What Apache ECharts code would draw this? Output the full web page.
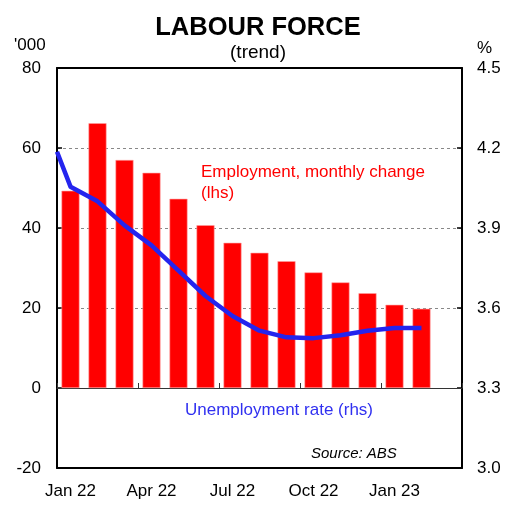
<!DOCTYPE html>
<html>
<head>
<meta charset="utf-8">
<script src="https://cdn.jsdelivr.net/npm/echarts@6/dist/echarts.min.js"></script>
<style>
  html, body { margin: 0; padding: 0; background: #fff; }
  #chart { width: 516px; height: 510px; }
</style>
</head>
<body>
<div id="chart"></div>
<script>
// monthly categories, Jan 22 .. Mar 23 (last one has no bar, it only pads the axis)
const meses = ['Jan 22','Feb 22','Mar 22','Apr 22','May 22','Jun 22','Jul 22','Aug 22','Sep 22','Oct 22','Nov 22','Dec 22','Jan 23','Feb 23','Mar 23'];

// employment, monthly change ('000), lhs
const empleo = [49.3, 66.2, 57.0, 53.8, 47.3, 40.7, 36.3, 33.8, 31.7, 28.9, 26.4, 23.7, 20.8, 19.8];

// unemployment rate (%), rhs; first point is where the line enters the frame (mid Dec 21), then Jan 22 .. Feb 23
const mesesDesempleo = [-0.5, 0, 1, 2, 3, 4, 5, 6, 7, 8, 9, 10, 11, 12, 13];
const desempleo = [4.186, 4.055, 4.00, 3.91, 3.835, 3.74, 3.645, 3.57, 3.515, 3.49, 3.487, 3.498, 3.515, 3.525, 3.525];

const ticksIzq = { min: -20, max: 80, interval: 20 };
const ticksDer = { min: 3.0, max: 4.5, interval: 0.3 };

const chartDom = document.getElementById('chart');
const myChart = echarts.init(chartDom);

const fuente = 'Liberation Sans, Arial, sans-serif';
const azul = '#2424ee';
const marco = { show: true, onZero: false, lineStyle: { color: '#000', width: 2 } };

const option = {
  animation: false,
  grid: {
    left: 57,
    right: 54,
    top: 68,
    bottom: 42
  },
  xAxis: [
    {
      type: 'category',
      data: meses,
      position: 'bottom',
      axisLine: marco,
      axisTick: { show: false },
      axisLabel: {
        interval: 2,
        margin: 15,
        color: '#000',
        fontSize: 17,
        fontFamily: fuente
      },
      splitLine: { show: false },
      z: 1
    },
    {
      // line along zero with the quarter ticks; also carries the unemployment line
      type: 'value',
      min: 0,
      max: meses.length,
      interval: 3,
      position: 'top',
      axisLine: { show: true, onZero: true, onZeroAxisIndex: 0, lineStyle: { color: '#333', width: 1 } },
      axisTick: { show: true, inside: false, length: 5, lineStyle: { color: '#333', width: 1 } },
      axisLabel: { show: false },
      splitLine: { show: false },
      z: 1
    },
    {
      // top edge of the frame
      type: 'category',
      data: meses,
      position: 'top',
      axisLine: marco,
      axisTick: { show: false },
      axisLabel: { show: false },
      splitLine: { show: false },
      z: 1
    }
  ],
  yAxis: [
    {
      type: 'value',
      position: 'left',
      min: ticksIzq.min,
      max: ticksIzq.max,
      interval: ticksIzq.interval,
      axisLine: marco,
      axisTick: { show: true, inside: true, length: 5, lineStyle: { color: '#000', width: 1.5 } },
      axisLabel: { color: '#000', fontSize: 17, fontFamily: fuente, margin: 16 },
      splitLine: { show: true, lineStyle: { color: '#888', width: 1, type: [3, 3] } }
    },
    {
      type: 'value',
      position: 'right',
      min: ticksDer.min,
      max: ticksDer.max,
      interval: ticksDer.interval,
      axisLine: marco,
      axisTick: { show: true, inside: true, length: 5, lineStyle: { color: '#000', width: 1.5 } },
      axisLabel: {
        color: '#000', fontSize: 17, fontFamily: fuente, margin: 15,
        formatter: v => v.toFixed(1)
      },
      splitLine: { show: false }
    }
  ],
  series: [
    {
      name: 'Employment, monthly change',
      type: 'bar',
      xAxisIndex: 0,
      yAxisIndex: 0,
      data: empleo,
      barWidth: 18,
      itemStyle: { color: '#ff0000', borderColor: '#ff9d9d', borderWidth: 0.6 },
      z: 2
    },
    {
      name: 'Unemployment rate',
      type: 'line',
      xAxisIndex: 1,
      yAxisIndex: 1,
      data: mesesDesempleo.map((m, i) => [m + 0.5, desempleo[i]]),
      showSymbol: false,
      smooth: false,
      clip: true,
      lineStyle: { color: azul, width: 4.5, join: 'round', cap: 'butt' },
      z: 3
    }
  ],
  graphic: [
    { type: 'text', left: 'center', top: 15, style: { text: 'LABOUR FORCE', font: 'bold 25.5px ' + fuente, fill: '#000' } },
    { type: 'text', left: 'center', top: 43, style: { text: '(trend)', font: '19px ' + fuente, fill: '#000' } },
    { type: 'text', left: 14, top: 37, style: { text: "'000", font: '17px ' + fuente, fill: '#000' } },
    { type: 'text', left: 477, top: 40, style: { text: '%', font: '17px ' + fuente, fill: '#000' } },
    { type: 'text', left: 201, top: 162, style: { text: 'Employment, monthly change\n(lhs)', font: '17px ' + fuente, fill: '#ff0000', lineHeight: 21 } },
    { type: 'text', left: 185, top: 402, style: { text: 'Unemployment rate (rhs)', font: '17px ' + fuente, fill: '#3030f0' } },
    { type: 'text', left: 311, top: 446, style: { text: 'Source: ABS', font: 'italic 15px ' + fuente, fill: '#000' } }
  ]
};

myChart.setOption(option);
</script>
</body>
</html>
